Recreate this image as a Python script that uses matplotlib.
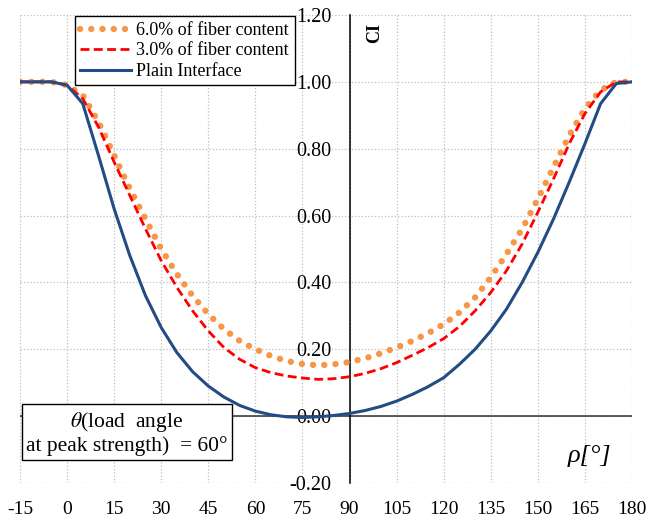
import numpy as np
import matplotlib
matplotlib.use("Agg")
import matplotlib.pyplot as plt
from matplotlib.ticker import MultipleLocator, FormatStrFormatter

plt.rcParams['font.family'] = ['Liberation Serif', 'DejaVu Serif']
plt.rcParams['mathtext.fontset'] = 'stix'
plt.rcParams['axes.unicode_minus'] = False

# angle rho in degrees
rho = [-15, -10, -5, 0, 5, 10, 15, 20, 25, 30, 35, 40, 45, 50, 55, 60, 65, 70, 75, 80,
       85, 90, 95, 100, 105, 110, 115, 120, 125, 130, 135, 140, 145, 150, 155, 160, 165,
       170, 175, 180]

ci_6pct = [1.0, 1.0, 1.0, 0.99, 0.96, 0.88, 0.78, 0.68, 0.59, 0.50, 0.425, 0.36, 0.305,
           0.26, 0.225, 0.20, 0.18, 0.165, 0.156, 0.152, 0.155, 0.162, 0.173, 0.188,
           0.205, 0.225, 0.248, 0.275, 0.31, 0.355, 0.415, 0.485, 0.56, 0.65, 0.745, 0.84,
           0.92, 0.975, 1.0, 1.0]

ci_3pct = [1.0, 1.0, 1.0, 0.99, 0.95, 0.865, 0.76, 0.66, 0.56, 0.465, 0.385, 0.315, 0.255,
           0.205, 0.17, 0.145, 0.13, 0.12, 0.114, 0.11, 0.112, 0.118, 0.128, 0.142, 0.16,
           0.182, 0.205, 0.232, 0.268, 0.315, 0.37, 0.435, 0.515, 0.61, 0.71, 0.815, 0.905,
           0.97, 1.0, 1.0]

ci_plain = [1.0, 1.0, 1.0, 0.99, 0.935, 0.78, 0.62, 0.48, 0.36, 0.265, 0.19, 0.133, 0.09,
            0.057, 0.032, 0.015, 0.004, -0.002, -0.004, -0.002, 0.002, 0.008, 0.017,
            0.029, 0.045, 0.065, 0.088, 0.115, 0.155, 0.20, 0.255, 0.32, 0.40, 0.49, 0.59,
            0.70, 0.815, 0.935, 0.995, 1.0]

labels = ["6.0% of fiber content", "3.0% of fiber content", "Plain Interface"]

fig = plt.figure(figsize=(6.51, 5.21), dpi=100)
ax = fig.add_axes([20 / 651, 1 - 483 / 521, 612 / 651, 468 / 521])

ax.plot(rho, ci_6pct, color='#F79646', lw=4.6, linestyle=(0, (0.01, 1.75)),
        dash_capstyle='round', label=labels[0], zorder=3)
ax.plot(rho, ci_3pct, color='#FF0000', lw=2.0, linestyle=(0, (3.2, 1.6)),
        label=labels[1], zorder=4)
ax.plot(rho, ci_plain, color='#234B84', lw=2.2, label=labels[2], zorder=5)

ax.set_xlim(-15, 180)
ax.set_ylim(-0.2, 1.2)
ax.xaxis.set_major_locator(MultipleLocator(15))
ax.yaxis.set_major_locator(MultipleLocator(0.2))
ax.yaxis.set_major_formatter(FormatStrFormatter('%.2f'))
ax.grid(True, linestyle=':', color='#BFBFBF', lw=0.9, zorder=0)
ax.set_axisbelow(True)

ax.spines['top'].set_visible(False)
ax.spines['right'].set_visible(False)
ax.spines['bottom'].set_visible(False)
ax.spines['left'].set_position(('data', 90))
ax.spines['left'].set_linewidth(1.1)
ax.axhline(0, color='#303030', lw=1.1, zorder=2)

ax.tick_params(axis='y', length=0, pad=13, labelsize=14.5)
ax.tick_params(axis='x', length=0, pad=13, labelsize=14)

ax.text(98.1, 1.145, "CI", rotation=90, fontsize=13, fontweight='bold',
        ha='center', va='center')
ax.text(589, 521 - 456, "\u03c1[\u00b0]", transform=None, fontsize=19,
        fontstyle='italic', ha='center', va='center')
ax.text(19.1, -0.05, "$\\theta$(load  angle\nat peak strength)  = 60\u00b0",
        fontsize=15.5, ha='center', va='center', multialignment='center', zorder=6,
        linespacing=1.1,
        bbox=dict(boxstyle='square,pad=0.2', facecolor='white', edgecolor='black', lw=1))

leg = ax.legend(loc='upper left', bbox_to_anchor=(0.09, 0.997), borderaxespad=0,
                fontsize=13, fancybox=False, framealpha=1, edgecolor='black',
                handlelength=2.8, handletextpad=0.3, labelspacing=0.2,
                borderpad=0.3)
leg.get_frame().set_linewidth(1)
leg.set_zorder(7)

fig.savefig("out.png", dpi=100)
